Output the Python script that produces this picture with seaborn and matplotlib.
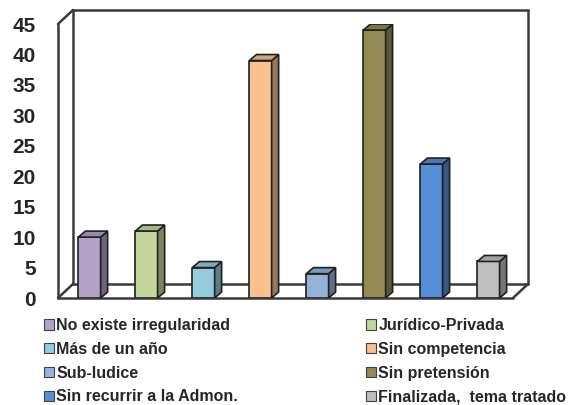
import numpy as np
import pandas as pd
import seaborn as sns
import matplotlib.pyplot as plt
from matplotlib.patches import Patch, Polygon
from matplotlib.colors import to_rgb

# dados
categorias = ['No existe irregularidad', 'Jurídico-Privada', 'Más de un año', 'Sin competencia',
              'Sub-ludice', 'Sin pretensión', 'Sin recurrir a la Admon.', 'Finalizada,  tema tratado']
valores = [10, 11, 5, 39, 4, 44, 22, 6]
cores = ['#B3A2C7', '#C3D69B', '#93CDDD', '#FAC090', '#95B3D7', '#948A54', '#558ED5', '#BFBFBF']
yticks = [0, 5, 10, 15, 20, 25, 30, 35, 40, 45]

sns.set_style('white')
plt.rcParams['font.family'] = ['Liberation Sans', 'DejaVu Sans']
plt.rcParams['font.weight'] = 'bold'

df = pd.DataFrame({'categoria': categorias, 'valor': valores})

W, H = 568, 405
fig = plt.figure(figsize=(W / 100, H / 100), dpi=100)
ax = fig.add_axes([58 / W, 1 - 298 / H, 455 / W, 274 / H])
ax.set_facecolor('none')

sns.barplot(data=df, x='categoria', y='valor', hue='categoria', palette=cores, legend=False,
            saturation=1, width=0.39, edgecolor='#202020', linewidth=1.2, ax=ax, zorder=3)
ax.set_xlim(-0.553, 7.43)
ax.set_ylim(0, 45)
ax.set_yticks(yticks)
ax.set_xticks([])
ax.set_xlabel('')
ax.set_ylabel('')
ax.tick_params(axis='y', length=0, pad=16, labelsize=15)
for lbl in ax.get_yticklabels():
    lbl.set_fontweight('bold')
for s in ax.spines.values():
    s.set_visible(False)

# caixa 3D (parede de fundo e chão)
dx, dy = 15 / 455, 14 / 274
cor_linha = '#3a3a3a'
linhas = [
    [(dx, dy), (1 + dx, dy)], [(dx, dy), (dx, 1 + dy)], [(dx, 1 + dy), (1 + dx, 1 + dy)],
    [(1 + dx, dy), (1 + dx, 1 + dy)], [(0, 1), (dx, 1 + dy)], [(0, 0), (dx, dy)],
    [(1, 0), (1 + dx, dy)], [(0, 0), (1, 0)], [(0, 0), (0, 1)],
]
for (a, b) in linhas:
    ax.plot([a[0], b[0]], [a[1], b[1]], transform=ax.transAxes, color=cor_linha,
            lw=1.8, clip_on=False, zorder=1, solid_capstyle='round')

# faces laterais e superiores das barras
p0 = ax.transData.transform((0, 0))
ox, oy = ax.transData.inverted().transform(p0 + np.array([7, 6]))
for patch, cor in zip(ax.patches, cores):
    x, w, h = patch.get_x(), patch.get_width(), patch.get_height()
    c = np.array(to_rgb(cor))
    lado = Polygon([(x + w, 0), (x + w + ox, oy), (x + w + ox, h + oy), (x + w, h)],
                   facecolor=c * 0.62, edgecolor='#202020', lw=1.2, zorder=3)
    topo = Polygon([(x, h), (x + ox, h + oy), (x + w + ox, h + oy), (x + w, h)],
                   facecolor=c * 0.85, edgecolor='#202020', lw=1.2, zorder=3)
    ax.add_patch(lado)
    ax.add_patch(topo)

# legenda em duas colunas (ordem por linhas)
handles = [Patch(facecolor=c, edgecolor='#404040', lw=0.8) for c in cores]
for col, x0 in [(0, 44), (1, 366)]:
    idx = list(range(col, 8, 2))
    fig.legend([handles[i] for i in idx], [categorias[i] for i in idx],
               loc='upper left', bbox_to_anchor=(x0 / W, 1 - 318 / H), frameon=False,
               handlelength=0.62, handleheight=0.62, handletextpad=0.15,
               labelspacing=0.55, borderpad=0, borderaxespad=0,
               prop={'size': 11.5, 'weight': 'bold'})

fig.savefig('out.png', dpi=100)
